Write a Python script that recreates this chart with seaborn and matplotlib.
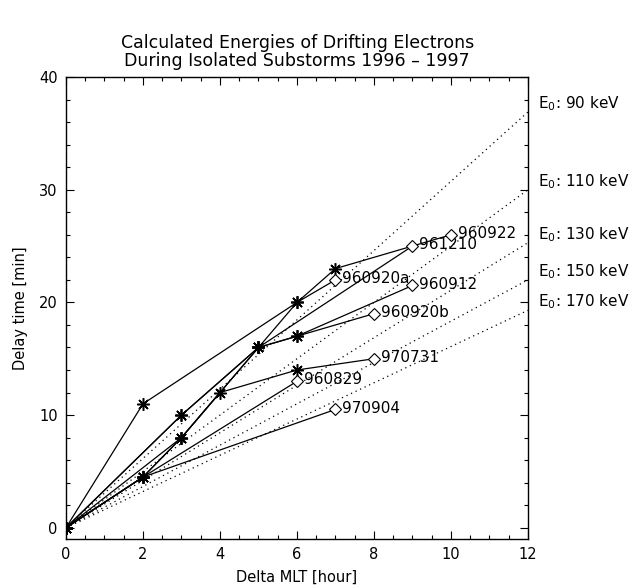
import numpy as np
import pandas as pd
import matplotlib
matplotlib.use("Agg")
import matplotlib.pyplot as plt
from matplotlib.ticker import MultipleLocator
import seaborn as sns

# Dados
events = ["960920a", "960922", "961210", "960912", "960920b", "970731", "960829", "970904"]
mlt = [
    [0, 2, 6, 7],
    [0, 3, 5, 6, 7, 10],
    [0, 3, 5, 9],
    [0, 2, 3, 5, 6, 9],
    [0, 3, 5, 6, 8],
    [0, 2, 3, 4, 6, 8],
    [0, 2, 6],
    [0, 2, 7],
]
delay = [
    [0, 11, 20, 22],
    [0, 10, 16, 20, 23, 26],
    [0, 8, 16, 25],
    [0, 4.5, 8, 16, 17, 21.5],
    [0, 10, 16, 17, 19],
    [0, 4.5, 8, 12, 14, 15],
    [0, 4.5, 13],
    [0, 4.5, 10.5],
]

# Curvas de energia constante (atraso em 12 h de MLT)
energies = [90, 110, 130, 150, 170]
delay_at_12h = [36.9, 30.0, 25.3, 22.0, 19.3]

rows = []
for ev, xs, ys in zip(events, mlt, delay):
    for i, (x, y) in enumerate(zip(xs, ys)):
        rows.append({"event": ev, "mlt": x, "delay": y, "order": i, "last": i == len(xs) - 1})
df = pd.DataFrame(rows)

sns.set_style("ticks")
plt.rcParams["font.family"] = ["DejaVu Sans"]
plt.rcParams["mathtext.default"] = "regular"
for k in ["text.color", "axes.labelcolor", "axes.edgecolor", "xtick.color", "ytick.color"]:
    plt.rcParams[k] = "black"

fig = plt.figure(figsize=(6.42, 5.88), dpi=100)
ax = fig.add_axes([0.1028, 0.0833, 0.7196, 0.7857])

# linhas pontilhadas de energia
for e, d in zip(energies, delay_at_12h):
    line_df = pd.DataFrame({"mlt": [0, 12], "delay": [0, d]})
    sns.lineplot(data=line_df, x="mlt", y="delay", ax=ax, color="black",
                 linestyle=(0, (1, 3)), linewidth=0.9, estimator=None)
    ax.annotate(f"E$_0$: {e} keV", xy=(12, d), xytext=(7, 6), textcoords="offset points",
                fontsize=11, va="center", ha="left", annotation_clip=False)

# eventos
sns.lineplot(data=df, x="mlt", y="delay", units="event", estimator=None, sort=False,
             color="black", linewidth=0.9, ax=ax)

mid = df[~df["last"]]
end = df[df["last"]]
ax.plot(mid["mlt"], mid["delay"], linestyle="none", marker=(8, 2, 0), markersize=9,
        markeredgewidth=1.1, color="black", zorder=4)
ax.plot(end["mlt"], end["delay"], linestyle="none", marker="D", markersize=6.5,
        markerfacecolor="white", markeredgecolor="black", markeredgewidth=0.8, zorder=4)

for _, r in end.iterrows():
    ax.annotate(r["event"], xy=(r["mlt"], r["delay"]), xytext=(5, 1), textcoords="offset points",
                fontsize=11, va="center", ha="left")

ax.set_xlim(0, 12)
ax.set_ylim(-1, 40)
ax.xaxis.set_major_locator(MultipleLocator(2))
ax.xaxis.set_minor_locator(MultipleLocator(0.5))
ax.yaxis.set_major_locator(MultipleLocator(10))
ax.yaxis.set_minor_locator(MultipleLocator(2))
ax.tick_params(which="both", direction="in", top=True, right=True, labelsize=10.5, width=0.8)
ax.tick_params(which="major", length=6, pad=6)
ax.tick_params(which="minor", length=3)
for s in ax.spines.values():
    s.set_linewidth(1.0)

ax.set_xlabel("Delta MLT [hour]", fontsize=10.5, labelpad=5)
ax.set_ylabel("Delay time [min]", fontsize=10.5, labelpad=8)
fig.text(0.463, 0.912, "Calculated Energies of Drifting Electrons\nDuring Isolated Substorms 1996 \u2013 1997",
         ha="center", va="center", fontsize=12.5, linespacing=1.0)

fig.savefig("out.png", dpi=100)
